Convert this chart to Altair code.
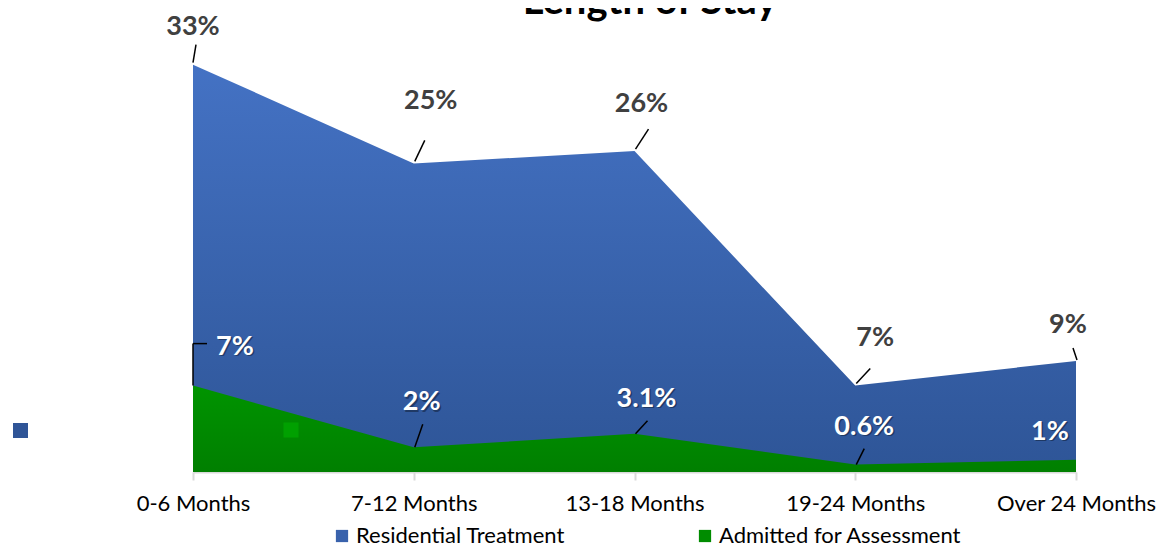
import altair as alt
import pandas as pd

# ---------------- data ----------------
categories = ["0-6 Months", "7-12  Months", "13-18 Months", "19-24 Months", "Over 24 Months"]
series_names = ["Residential Treatment", "Admitted for Assessment"]
residential = [33, 25, 26, 7, 9]
assessment = [7, 2, 3.1, 0.6, 1]
residential_labels = ["33%", "25%", "26%", "7%", "9%"]
assessment_labels = ["7%", "2%", "3.1%", "0.6%", "1%"]
title_text = "Length of Stay"

# ---------------- styling (pixel offsets for labels / leader lines) ----------------
res_label_off = [(0, -38), (17, -62), (7, -47), (20, -48), (-8, -36)]
asm_label_off = [(42, -39), (8, -45), (12, -35), (9, -38), (-26, -28)]
# leader lines: (x0, y0, x1, y1) offsets from the point
res_leader = [(0, -2, 3, -20), (1, -2, 11, -23), (1, -2, 14, -22), (1, -2, 15, -17), (1, -1, -3, -13)]
asm_leader = [[(0, 0, 0, -42), (0, -42, 14, -42)], [(1, 0, 9, -23)], [(1, 0, 13, -13)], [(1, 0, 9, -16)], []]

BLUE_TOP, BLUE_BOT = "#4472C4", "#2E5597"
GREEN_TOP, GREEN_BOT = "#009400", "#007F00"
FONT = "Lato"

df_res = pd.DataFrame({"cat": categories, "value": residential, "label": residential_labels,
                       "series": series_names[0]})
df_asm = pd.DataFrame({"cat": categories, "value": assessment, "label": assessment_labels,
                       "series": series_names[1]})
df_all = pd.concat([df_res, df_asm], ignore_index=True)

x_enc = alt.X("cat:N", sort=categories,
              scale=alt.Scale(type="point", domain=categories, padding=0),
              axis=alt.Axis(title=None, labelAngle=0, labelFont=FONT, labelFontSize=22,
                            labelColor="#000000", domainColor="#d9d9d9", domainWidth=2,
                            tickColor="#d9d9d9", tickWidth=2, tickSize=8, labelPadding=13,
                            grid=False))
y_enc = alt.Y("value:Q", scale=alt.Scale(domain=[0, 35], nice=False, zero=True), axis=None)


def grad(top, bot):
    return alt.Gradient(gradient="linear",
                        stops=[alt.GradientStop(color=top, offset=0),
                               alt.GradientStop(color=bot, offset=1)],
                        x1=0, x2=0, y1=0, y2=1)


area_res = alt.Chart(df_res).mark_area(fill=grad(BLUE_TOP, BLUE_BOT), interpolate="linear").encode(x=x_enc, y=y_enc)
area_asm = alt.Chart(df_asm).mark_area(fill=grad(GREEN_TOP, GREEN_BOT), interpolate="linear").encode(x=x_enc, y=y_enc)

legend_layer = alt.Chart(df_all).mark_square(opacity=0, size=1).encode(
    x=x_enc, y=y_enc,
    color=alt.Color("series:N",
                    scale=alt.Scale(domain=series_names, range=["#3962AC", "#008C00"]),
                    legend=alt.Legend(title=None, orient="none", legendX=138, legendY=485,
                                      direction="horizontal", symbolType="square",
                                      symbolSize=150, symbolOpacity=1, symbolStrokeWidth=0,
                                      labelFont=FONT, labelFontSize=22, labelColor="#000000",
                                      labelOffset=3, columnPadding=129, labelLimit=400)))

layers = [area_res, area_asm, legend_layer]

# leader lines
for i, cat in enumerate(categories):
    x0, y0, x1, y1 = res_leader[i]
    layers.append(alt.Chart(df_res).transform_filter(alt.datum.cat == cat).mark_rule(
        color="#000000", strokeWidth=1.5, xOffset=x0, yOffset=y0, x2Offset=x1, y2Offset=y1).encode(
        x=x_enc, y=y_enc, x2="cat", y2="value"))
    for (a0, b0, a1, b1) in asm_leader[i]:
        layers.append(alt.Chart(df_asm).transform_filter(alt.datum.cat == cat).mark_rule(
            color="#000000", strokeWidth=1.5, xOffset=a0, yOffset=b0, x2Offset=a1, y2Offset=b1).encode(
            x=x_enc, y=y_enc, x2="cat", y2="value"))

# value labels
for i, cat in enumerate(categories):
    dx, dy = res_label_off[i]
    layers.append(alt.Chart(df_res).transform_filter(alt.datum.cat == cat).mark_text(
        dx=dx, dy=dy, font=FONT, fontSize=27, fontWeight="bold", color="#404040",
        align="center", baseline="middle").encode(x=x_enc, y=y_enc, text="label:N"))
    dx, dy = asm_label_off[i]
    layers.append(alt.Chart(df_asm).transform_filter(alt.datum.cat == cat).mark_text(
        dx=dx + 1.5, dy=dy + 1.5, font=FONT, fontSize=27, fontWeight="bold", color="#000000",
        opacity=0.35, align="center", baseline="middle").encode(x=x_enc, y=y_enc, text="label:N"))
    layers.append(alt.Chart(df_asm).transform_filter(alt.datum.cat == cat).mark_text(
        dx=dx, dy=dy, font=FONT, fontSize=27, fontWeight="bold", color="#ffffff",
        align="center", baseline="middle").encode(x=x_enc, y=y_enc, text="label:N"))

# stray legend squares seen in the reference
dummy = pd.DataFrame({"k": [0]})
layers.append(alt.Chart(dummy).mark_square(size=225, color="#2F5597", opacity=1).encode(
    x=alt.value(-172.5), y=alt.value(390.5)))
layers.append(alt.Chart(dummy).mark_square(size=225, color="#00A000", opacity=1).encode(
    x=alt.value(98), y=alt.value(390)))

# title (partially cut off at the top, as in the reference)
title_df = pd.DataFrame({"t": [title_text]})
layers.append(alt.Chart(title_df).mark_text(font=FONT, fontSize=40, fontWeight="bold", color="#000000",
                                            align="center", baseline="alphabetic").encode(
    x=alt.value(457), y=alt.value(-26), text="t:N"))

chart = alt.layer(*layers).properties(
    width=883, height=432,
    autosize=alt.AutoSizeParams(type="none"),
    padding={"left": 185, "top": 32, "right": 80, "bottom": 76},
).configure_view(stroke=None)

chart.save("out.html", embed_options={"renderer": "svg", "actions": False})
